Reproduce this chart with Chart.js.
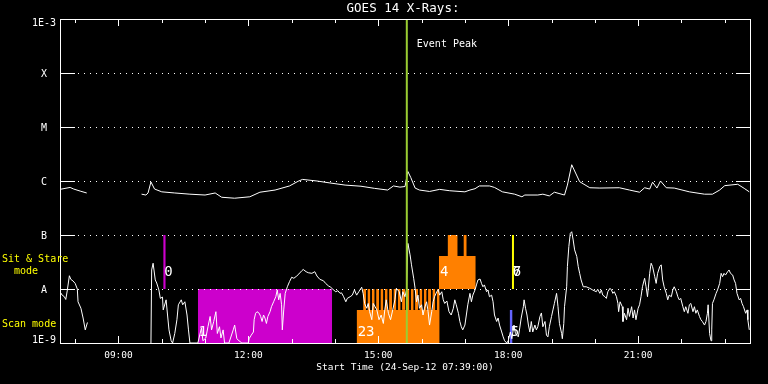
<!DOCTYPE html>
<html><head><meta charset="utf-8">
<script src="https://cdn.jsdelivr.net/npm/chart.js@4.4.0/dist/chart.umd.min.js"></script>
<style>html,body{margin:0;padding:0;background:#000;}canvas{display:block;}</style>
</head><body>
<canvas id="c" width="768" height="384"></canvas>
<script>
// ---------- text ----------
const titleText = 'GOES 14 X-Rays:';
const xAxisTitle = 'Start Time (24-Sep-12 07:39:00)';
const eventText = 'Event Peak';
const modeLabels = ['Sit & Stare', '  mode', 'Scan mode'];

// ---------- axes (time in minutes since 00:00 on 24-Sep-12) ----------
const startMin = 459, endMin = 1415;
const hourTicks = [480,540,600,660,720,780,840,900,960,1020,1080,1140,1200,1260,1320,1380];
const labeledTicks = [540,720,900,1080,1260];
const tickLabels = ['09:00','12:00','15:00','18:00','21:00'];
const levelValues = [1e-3,1e-4,1e-5,1e-6,1e-7,1e-8,1e-9];
const levelLabels = ['1E-3','X','M','C','B','A','1E-9'];
const eventPeakTime = 939.5;

// ---------- GOES long channel (1-8 A) ----------
const longTimes = [459,473,478,487,496,530,572,578,581,585,590,600,618,639,660,674,683,701,722,736,
  757,777,789,795,815,833,854,876,895,913,921,930,937,941,945,951,957,971,985,999,
  1020,1027,1034,1040,1054,1061,1072,1089,1099,1103,1121,1128,1137,1144,1158,1162,1168,1179,1193,1207,
  1234,1248,1262,1269,1276,1280,1286,1291,1299,1310,1331,1352,1363,1373,1380,1398,1407,1414];
const longFlux = [7.0e-7,7.6e-7,7.1e-7,6.5e-7,6.0e-7,null,5.7e-7,5.5e-7,6.0e-7,9.6e-7,7.1e-7,6.3e-7,6.0e-7,5.7e-7,5.5e-7,6.0e-7,5.0e-7,4.8e-7,5.1e-7,6.2e-7,
  6.8e-7,8.1e-7,9.9e-7,1.07e-6,1.0e-6,9.2e-7,8.4e-7,8.0e-7,7.3e-7,6.8e-7,8.1e-7,7.7e-7,7.9e-7,1.5e-6,1.16e-6,7.4e-7,6.8e-7,6.4e-7,7.0e-7,6.6e-7,
  6.3e-7,6.8e-7,7.2e-7,8.1e-7,8.1e-7,7.6e-7,6.3e-7,5.7e-7,5.1e-7,5.5e-7,5.5e-7,5.7e-7,5.3e-7,6.2e-7,5.5e-7,8.4e-7,2.0e-6,9.7e-7,7.5e-7,7.4e-7,
  7.5e-7,6.8e-7,6.2e-7,7.5e-7,7.1e-7,9.5e-7,7.4e-7,1.0e-6,7.5e-7,7.4e-7,6.3e-7,5.7e-7,5.7e-7,6.8e-7,8.2e-7,8.7e-7,7.3e-7,6.3e-7];

// ---------- GOES short channel (0.5-4 A) ----------
const shortTimes = [459,462,465,467,469,472,474,477,480,483,
  484,488,491,494,497,540,
  585,586,588,591,593,596,598,601,602,606,
  608,610,613,615,618,621,623,627,629,632,
  635,637,639,650,655,657,661,664,667,669,
  672,675,677,680,682,685,687,693,699,701,
  704,707,711,720,721,724,727,728,730,732,
  735,737,739,741,743,745,747,750,752,755,
  758,760,762,764,766,767,769,771,774,777,
  780,783,787,790,794,796,800,803,808,812,
  815,819,824,827,831,834,837,841,844,847,
  849,852,855,857,861,864,867,870,873,877,
  879,881,884,886,888,891,893,898,901,904,
  907,909,911,914,917,920,923,925,929,932,
  934,937,939,941,944,946,949,951,953,955,
  957,960,962,964,967,969,971,974,976,978,
  981,983,985,988,990,992,995,998,1001,1004,
  1006,1008,1011,1013,1015,1017,1020,1022,1024,1027,
  1029,1031,1034,1036,1038,1041,1043,1045,1047,1050,
  1052,1054,1057,1059,1061,1064,1066,1068,1071,1073,
  1075,1078,1080,1083,1085,1088,1090,1094,1096,1098,
  1101,1102,1104,1106,1108,1110,1112,1114,1117,1119,
  1121,1124,1126,1128,1131,1133,1135,1137,1140,1142,
  1144,1147,1149,1151,1154,1155,1157,1158,1161,1162,
  1164,1166,1168,1170,1172,1175,1177,1179,1181,1184,
  1188,1193,1197,1202,1204,1207,1209,1211,1214,1216,
  1218,1221,1223,1225,1227,1230,1232,1233,1235,1238,
  1239,1241,1244,1246,1248,1251,1253,1255,1257,1260,
  1262,1264,1266,1269,1271,1273,1276,1278,1280,1283,
  1285,1287,1290,1292,1294,1296,1299,1301,1303,1306,
  1308,1310,1313,1315,1317,1319,1322,1324,1326,1329,
  1331,1333,1336,1338,1340,1342,1345,1347,1349,1352,
  1354,1356,1357,1359,1361,1362,1363,1365,1368,1370,
  1373,1375,1377,1379,1381,1384,1386,1388,1391,1393,
  1395,1397,1400,1402,1404,1406,1409,1411,1412,1414];
const shortFlux = [8.9e-9,7.7e-9,7.2e-9,6.4e-9,9.2e-9,1.76e-8,1.51e-8,1.41e-8,1.27e-8,1.0e-8,
  5.8e-9,4.4e-9,2.9e-9,1.75e-9,2.4e-9,null,
  1e-9,2.25e-8,3.0e-8,1.47e-8,1.29e-8,9.6e-9,6.7e-9,7.1e-9,4.1e-9,6.3e-9,
  3.3e-9,1.75e-9,1.1e-9,1e-9,1.5e-9,2.7e-9,5.1e-9,6.3e-9,5.1e-9,5.8e-9,
  3.3e-9,1.75e-9,1e-9,1e-9,1.9e-9,1.1e-9,1.24e-9,2.0e-9,3.1e-9,1.75e-9,
  2.5e-9,3.8e-9,1.5e-9,2.0e-9,1.24e-9,1.75e-9,1e-9,1e-9,1.75e-9,2.15e-9,
  1.2e-9,1.1e-9,1e-9,1e-9,1.2e-9,1.4e-9,1.6e-9,2.7e-9,3.55e-9,3.8e-9,
  3.55e-9,3.1e-9,2.5e-9,3.3e-9,2.9e-9,2.3e-9,3.1e-9,3.8e-9,4.7e-9,5.8e-9,
  7.2e-9,9.6e-9,6.3e-9,8.3e-9,5.1e-9,1.75e-9,4.1e-9,8.3e-9,1.1e-8,1.37e-8,
  1.65e-8,1.58e-8,1.74e-8,1.9e-8,2.18e-8,2.3e-8,2.09e-8,2.0e-8,1.95e-8,2.09e-8,
  1.74e-8,1.51e-8,1.42e-8,1.27e-8,1.14e-8,1.08e-8,9.9e-9,8.9e-9,9.3e-9,8.3e-9,
  8.5e-9,7.2e-9,5.8e-9,6.7e-9,7.2e-9,7.7e-9,9.6e-9,7.7e-9,8.9e-9,1.08e-8,
  8.3e-9,5.4e-9,4.4e-9,5.4e-9,3.8e-9,2.7e-9,5.4e-9,4.1e-9,2.7e-9,3.3e-9,
  2.3e-9,4.1e-9,6.3e-9,3.55e-9,2.7e-9,4.1e-9,6.3e-9,1.03e-8,8.9e-9,5.8e-9,
  8.9e-9,7.2e-9,9.6e-9,7.0e-8,4.3e-8,2.8e-8,1.58e-8,1.03e-8,5.8e-9,7.7e-9,
  4.4e-9,5.1e-9,3.3e-9,4.4e-9,5.8e-9,3.8e-9,2.15e-9,3.8e-9,5.8e-9,7.2e-9,
  8.9e-9,9.6e-9,7.7e-9,8.9e-9,6.3e-9,5.4e-9,6.0e-9,3.8e-9,3.3e-9,4.4e-9,
  6.3e-9,5.1e-9,3.55e-9,2.5e-9,2.0e-9,1.75e-9,2.15e-9,3.3e-9,5.1e-9,8.3e-9,
  5.8e-9,7.7e-9,9.6e-9,1.19e-8,1.47e-8,1.53e-8,1.27e-8,1.1e-8,1.19e-8,8.9e-9,
  9.6e-9,7.2e-9,7.7e-9,5.8e-9,3.3e-9,2.5e-9,2.9e-9,2.15e-9,1.6e-9,1.3e-9,
  1.1e-9,1e-9,1.1e-9,1.6e-9,1.2e-9,2.15e-9,1.5e-9,1.3e-9,1.9e-9,2.9e-9,
  4.7e-9,6.3e-9,4.4e-9,3.3e-9,2.15e-9,1.6e-9,2.5e-9,1.6e-9,2.15e-9,1.75e-9,
  2.0e-9,3.1e-9,3.6e-9,2.0e-9,2.5e-9,1.4e-9,1.3e-9,2.0e-9,3.1e-9,4.1e-9,
  5.4e-9,8.3e-9,4.7e-9,2.3e-9,1.5e-9,1.2e-9,2.3e-9,4.7e-9,1.1e-8,2.6e-8,
  6.1e-8,1.07e-7,1.15e-7,8.1e-8,5.3e-8,4.0e-8,2.6e-8,1.95e-8,1.47e-8,1.1e-8,
  1.1e-8,1.03e-8,9.6e-9,8.9e-9,9.9e-9,8.3e-9,9.6e-9,7.7e-9,7.2e-9,6.7e-9,
  8.9e-9,1.03e-8,9.6e-9,8.3e-9,8.9e-9,7.2e-9,5.4e-9,3.8e-9,5.8e-9,4.7e-9,
  2.5e-9,3.55e-9,2.7e-9,4.4e-9,3.1e-9,4.7e-9,2.9e-9,4.1e-9,2.7e-9,4.4e-9,
  5.1e-9,7.2e-9,1.1e-8,1.58e-8,1.1e-8,7.2e-9,1.95e-8,3.0e-8,2.6e-8,1.69e-8,
  1.27e-8,1.95e-8,2.6e-8,2.8e-8,1.47e-8,1.1e-8,8.3e-9,6.3e-9,7.7e-9,7.2e-9,
  9.6e-9,1.1e-8,8.9e-9,7.2e-9,6.3e-9,6.7e-9,4.7e-9,3.8e-9,4.7e-9,3.55e-9,
  5.1e-9,5.4e-9,3.8e-9,4.7e-9,3.55e-9,4.1e-9,3.1e-9,2.7e-9,2.5e-9,2.15e-9,
  2.5e-9,3.55e-9,5.1e-9,1.5e-9,1.1e-9,1.75e-9,5.4e-9,6.3e-9,8.3e-9,9.6e-9,
  1.27e-8,1.95e-8,1.69e-8,1.95e-8,1.81e-8,2.09e-8,2.25e-8,1.95e-8,1.81e-8,1.47e-8,
  1.27e-8,8.3e-9,6.3e-9,6.7e-9,5.4e-9,4.7e-9,3.55e-9,4.1e-9,2.7e-9,1.75e-9];

// ---------- observation blocks ----------
const obsStart = [602, 650, 870, 984, 996, 1018, 1085, 1082];
const obsEnd   = [605.5, 836, 985, 1035, 1010, 1022.5, 1088, 1086];
const obsLow   = [1e-8, 1e-9, 1e-9, 1e-8, 4.1e-8, 4.1e-8, 1e-8, 1e-9];
const obsHigh  = [1e-7, 1e-8, 4.1e-9, 4.1e-8, 1e-7, 1e-7, 1e-7, 4.1e-9];
const combStart = [879,885,891,897,903,909,915,921,927,933,939,945,951,957,963,969,975,981];
const combEnd   = [883,889,895,901,907,913,919,925,931,937,943,949,955,961,967,973,979,985];
const combLow = 4.1e-9, combHigh = 1e-8;
const obsLabels    = ['0','1','23','4','7','6','5'];
const obsLabelTime = [602, 650, 870, 984, 1085, 1085, 1082];
const obsLabelFlux = [2.0e-8, 1.6e-9, 1.6e-9, 2.0e-8, 2.0e-8, 2.0e-8, 1.6e-9];

// ---------- styles ----------
const obsColors = ['#cc00cc','#cc00cc','#ff8000','#ff8000','#ff8000','#ff8000','#ffff00','#6464ff'];
const combColor = '#ff8000';
const MONO = '"DejaVu Sans Mono", monospace';

const toXY = (ts, vs) => ts.map((t, i) => ({x: t, y: vs[i]}));
const rect = (s, e, lo, hi, color) => ({
  type: 'line', data: [{x: s, y: hi}, {x: e, y: hi}],
  fill: {value: lo}, backgroundColor: color, borderWidth: 0, pointRadius: 0
});

const datasets = [
  {type: 'line', data: [{x: eventPeakTime, y: 1e-9}, {x: eventPeakTime, y: 1e-3}],
   borderColor: '#9acd32', borderWidth: 2, pointRadius: 0, fill: false},
  {type: 'line', data: toXY(longTimes, longFlux), borderColor: '#ffffff', borderWidth: 1,
   pointRadius: 0, tension: 0, fill: false, spanGaps: false},
  {type: 'line', data: toXY(shortTimes, shortFlux), borderColor: '#ffffff', borderWidth: 1,
   pointRadius: 0, tension: 0, fill: false, spanGaps: false}
];
obsStart.forEach((s, i) => datasets.push(rect(s, obsEnd[i], obsLow[i], obsHigh[i], obsColors[i])));
combStart.forEach((s, i) => datasets.push(rect(s, combEnd[i], combLow, combHigh, combColor)));

const overlay = {
  id: 'overlay',
  afterDatasetsDraw(chart) {
    const {ctx, chartArea: a, scales: {x, y}} = chart;
    ctx.save();
    ctx.strokeStyle = '#ffffff'; ctx.lineWidth = 1;
    // dotted level lines with solid end ticks
    levelValues.forEach((v, i) => {
      if (i === 0 || i === levelValues.length - 1) return;
      const py = Math.round(y.getPixelForValue(v)) + 0.5;
      ctx.setLineDash([1, 5]);
      ctx.beginPath(); ctx.moveTo(a.left + 18, py); ctx.lineTo(a.right - 14, py); ctx.stroke();
      ctx.setLineDash([]);
      ctx.beginPath();
      ctx.moveTo(a.left, py); ctx.lineTo(a.left + 15, py);
      ctx.moveTo(a.right - 14, py); ctx.lineTo(a.right, py);
      ctx.stroke();
    });
    // frame
    ctx.strokeRect(a.left + 0.5, a.top + 0.5, a.right - a.left, a.bottom - a.top);
    // hour ticks (inward, top and bottom)
    ctx.beginPath();
    hourTicks.forEach(t => {
      const px = Math.round(x.getPixelForValue(t)) + 0.5;
      const len = labeledTicks.includes(t) ? 7 : 4;
      ctx.moveTo(px, a.bottom); ctx.lineTo(px, a.bottom - len);
      ctx.moveTo(px, a.top); ctx.lineTo(px, a.top + len);
    });
    ctx.stroke();

    ctx.fillStyle = '#ffffff';
    ctx.textBaseline = 'middle';
    // y level labels
    ctx.font = '10px ' + MONO; ctx.textAlign = 'center';
    levelValues.forEach((v, i) => {
      let py = y.getPixelForValue(v) + 1;
      py = Math.min(Math.max(py, a.top + 4.5), a.bottom - 3);
      ctx.fillText(levelLabels[i], a.left - 16, py);
    });
    // x tick labels
    ctx.font = '9.5px ' + MONO;
    labeledTicks.forEach((t, i) => ctx.fillText(tickLabels[i], x.getPixelForValue(t), a.bottom + 13));
    // axis title and chart title
    ctx.font = '9.5px ' + MONO;
    ctx.fillText(xAxisTitle, (a.left + a.right) / 2, a.bottom + 25);
    ctx.font = '12.5px ' + MONO;
    ctx.fillText(titleText, (a.left + a.right) / 2 - 2, a.top - 10);
    // event peak
    ctx.font = '10px ' + MONO; ctx.textAlign = 'left';
    ctx.fillText(eventText, x.getPixelForValue(eventPeakTime) + 10, a.top + 25);
    // observation labels
    ctx.font = '300 14px ' + MONO;
    obsLabels.forEach((s, i) => ctx.fillText(s, x.getPixelForValue(obsLabelTime[i]) + 1, y.getPixelForValue(obsLabelFlux[i])));
    // mode labels
    ctx.fillStyle = '#ffff00'; ctx.font = '10px ' + MONO;
    const yB = y.getPixelForValue(1e-7), yA = y.getPixelForValue(1e-8);
    ctx.fillText(modeLabels[0], 2, yB + 24);
    ctx.fillText(modeLabels[1], 2, yB + 36.5);
    ctx.fillText(modeLabels[2], 2, yA + 35);
    ctx.restore();
  }
};

new Chart(document.getElementById('c'), {
  type: 'line',
  data: {datasets},
  options: {
    responsive: false, animation: false, devicePixelRatio: 1, events: [],
    layout: {padding: {left: 60, top: 19, right: 18, bottom: 41}},
    plugins: {legend: {display: false}, tooltip: {enabled: false}},
    scales: {
      x: {type: 'linear', min: startMin, max: endMin,
          grid: {display: false, drawTicks: false}, border: {display: false},
          ticks: {display: false}},
      y: {type: 'logarithmic', min: 1e-9, max: 1e-3,
          grid: {display: false, drawTicks: false}, border: {display: false},
          ticks: {display: false}}
    }
  },
  plugins: [overlay]
});
</script>
</body></html>
